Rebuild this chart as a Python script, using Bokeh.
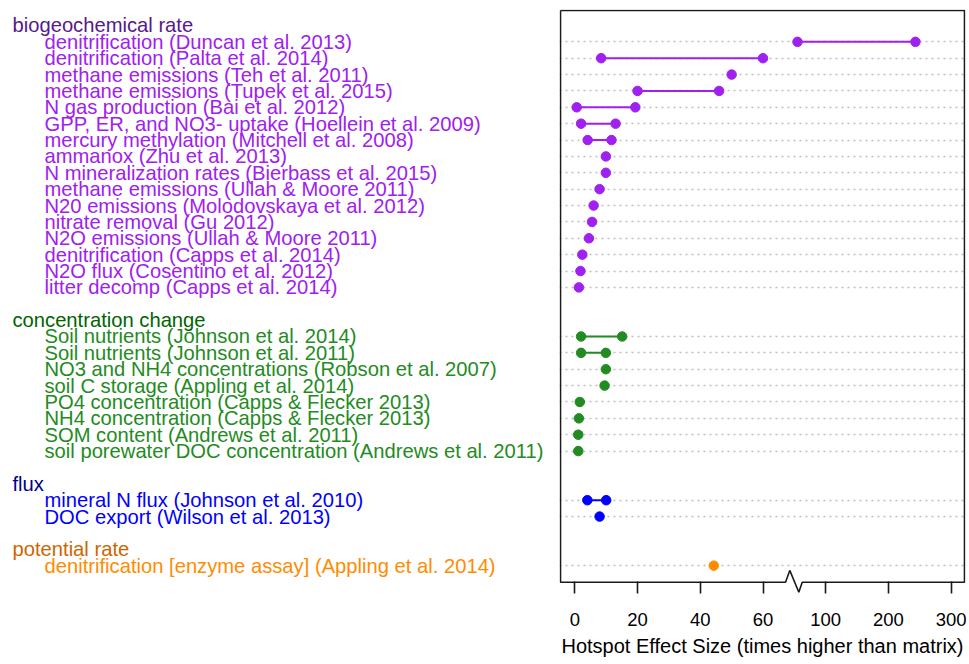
from bokeh.plotting import figure
from bokeh.layouts import row
from bokeh.models import Range1d, FixedTicker, ColumnDataSource
from bokeh.embed import file_html
from bokeh.resources import INLINE
from bokeh.core.properties import value

nan = float("nan")

# ---------------- data ----------------
group_names = ["biogeochemical rate", "concentration change", "flux", "potential rate"]
header_colors = ["#551A8B", "#006400", "#00008B", "#CD6600"]
item_colors = ["#A020F0", "#228B22", "#0000FF", "#FF8C00"]

bio_labels = [
    "denitrification (Duncan et al. 2013)",
    "denitrification (Palta et al. 2014)",
    "methane emissions (Teh et al. 2011)",
    "methane emissions (Tupek et al. 2015)",
    "N gas production (Bai et al. 2012)",
    "GPP, ER, and NO3- uptake (Hoellein et al. 2009)",
    "mercury methylation (Mitchell et al. 2008)",
    "ammanox  (Zhu et al. 2013)",
    "N mineralization rates (Bierbass et al. 2015)",
    "methane emissions (Ullah & Moore 2011)",
    "N20 emissions (Molodovskaya et al. 2012)",
    "nitrate removal (Gu 2012)",
    "N2O emissions (Ullah & Moore 2011)",
    "denitrification (Capps et al. 2014)",
    "N2O flux (Cosentino et al. 2012)",
    "litter decomp (Capps et al. 2014)",
]
bio_low = [71, 8.4, 50, 20, 0.6, 2.0, 4.1, 9.9, 9.9, 7.9, 6.0, 5.5, 4.5, 2.4, 1.8, 1.3]
bio_high = [243, 60, nan, 46, 19.3, 13.0, 11.7, nan, nan, nan, nan, nan, nan, nan, nan, nan]

conc_labels = [
    "Soil nutrients (Johnson et al. 2014)",
    "Soil nutrients (Johnson et al. 2011)",
    "NO3 and NH4 concentrations (Robson et al. 2007)",
    "soil C storage (Appling et al. 2014)",
    "PO4 concentration (Capps & Flecker 2013)",
    "NH4 concentration (Capps & Flecker 2013)",
    "SOM content (Andrews et al. 2011)",
    "soil porewater DOC concentration (Andrews et al. 2011)",
]
conc_low = [2.0, 2.0, 9.9, 9.5, 1.6, 1.3, 1.1, 1.1]
conc_high = [15.1, 9.9, nan, nan, nan, nan, nan, nan]

flux_labels = [
    "mineral N flux (Johnson et al. 2010)",
    "DOC export (Wilson et al. 2013)",
]
flux_low = [4.0, 7.9]
flux_high = [10.0, nan]

pot_labels = ["denitrification [enzyme assay] (Appling et al. 2014)"]
pot_low = [44.3]
pot_high = [nan]

tick_values = [0, 20, 40, 60, 100, 200, 300]

groups = [
    (bio_labels, bio_low, bio_high),
    (conc_labels, conc_low, conc_high),
    (flux_labels, flux_low, flux_high),
    (pot_labels, pot_low, pot_high),
]


# broken axis: 0..~70 linear (20 per unit), above the break 100 per unit
def xpos(v):
    if v != v:
        return nan
    return v / 20.0 if v < 75 else 4.0 + (v - 100.0) / 100.0


# ---------------- layout constants ----------------
FONT = "Liberation Sans"
H = 664
TOP = 9
BOTTOM = 71
y_range = Range1d(34.70, -0.976)
x_range = Range1d(-0.244, 6.228)

left = figure(width=559, height=H, output_backend="svg", toolbar_location=None,
              x_range=Range1d(0, 559), y_range=y_range,
              x_axis_location=None, y_axis_location=None,
              min_border_left=0, min_border_right=0,
              min_border_top=TOP, min_border_bottom=BOTTOM)
left.outline_line_color = None
left.xgrid.visible = False
left.ygrid.visible = False

p = figure(width=410, height=H, output_backend="svg", toolbar_location=None,
           x_range=x_range, y_range=y_range, y_axis_location=None,
           min_border_left=0, min_border_right=4,
           min_border_top=TOP, min_border_bottom=BOTTOM)
p.outline_line_color = None
p.xgrid.visible = False

# rows
tx, ty, tt, tc = [], [], [], []
item_rows = []
r = 0
for gi, (labels, lows, highs) in enumerate(groups):
    tx.append(12); ty.append(r); tt.append(group_names[gi]); tc.append(header_colors[gi])
    rows = []
    for k, lab in enumerate(labels):
        rr = r + 1 + k
        rows.append(rr)
        tx.append(44); ty.append(rr); tt.append(lab); tc.append(item_colors[gi])
    item_rows.extend(rows)
    col = item_colors[gi]
    seg = ColumnDataSource(dict(
        x0=[xpos(a) for a, b in zip(lows, highs) if b == b],
        x1=[xpos(b) for a, b in zip(lows, highs) if b == b],
        y=[yy for yy, b in zip(rows, highs) if b == b]))
    p.segment(x0="x0", y0="y", x1="x1", y1="y", source=seg, line_color=col, line_width=2)
    px = [xpos(a) for a in lows] + [xpos(b) for b in highs if b == b]
    py = list(rows) + [yy for yy, b in zip(rows, highs) if b == b]
    p.scatter(px, py, size=9.5, fill_color=col, line_color=col)
    r += len(labels) + 2

left.text(x=tx, y=ty, text=tt, text_color=tc, text_font=value(FONT),
          text_font_size="20.2px", text_baseline="middle", text_align="left")

# dotted guide lines at item rows
p.ygrid.ticker = FixedTicker(ticks=item_rows)
p.ygrid.grid_line_color = "#BEBEBE"
p.ygrid.grid_line_dash = "2 4"
p.ygrid.grid_line_width = 1.6

# box with axis break zigzag on the bottom edge
tick_pos = [xpos(v) for v in tick_values]
brk = (tick_pos[3] + tick_pos[4]) / 2.0
bx0 = x_range.start + 0.016
bx1 = x_range.end - 0.016
by0 = y_range.end + 0.06
by1 = 34.01
box_x = [bx0, bx1, bx1, brk + 0.125, brk + 0.071, brk - 0.073, brk - 0.141, bx0, bx0]
box_y = [by0, by0, by1, by1, 34.62, 33.29, by1, by1, by0]
p.line(box_x, box_y, line_color="#1a1a1a", line_width=1.6)

# x axis
p.xaxis.ticker = FixedTicker(ticks=tick_pos)
p.xaxis.major_label_overrides = {tp: str(v) for tp, v in zip(tick_pos, tick_values)}
p.xaxis.axis_line_color = None
p.xaxis.minor_tick_line_color = None
p.xaxis.major_tick_in = 12
p.xaxis.major_tick_out = 0
p.xaxis.major_tick_line_color = "#1a1a1a"
p.xaxis.major_tick_line_width = 1.6
p.xaxis.major_label_standoff = 19
p.xaxis.major_label_text_font = FONT
p.xaxis.major_label_text_font_size = "18.5px"
p.xaxis.major_label_text_color = "black"
p.xaxis.axis_label = "Hotspot Effect Size (times higher than matrix)"
p.xaxis.axis_label_text_font = FONT
p.xaxis.axis_label_text_font_size = "20px"
p.xaxis.axis_label_text_font_style = "normal"
p.xaxis.axis_label_text_color = "black"
p.xaxis.axis_label_standoff = 6

layout = row(left, p)
open("out.html", "w").write(file_html(layout, INLINE))
